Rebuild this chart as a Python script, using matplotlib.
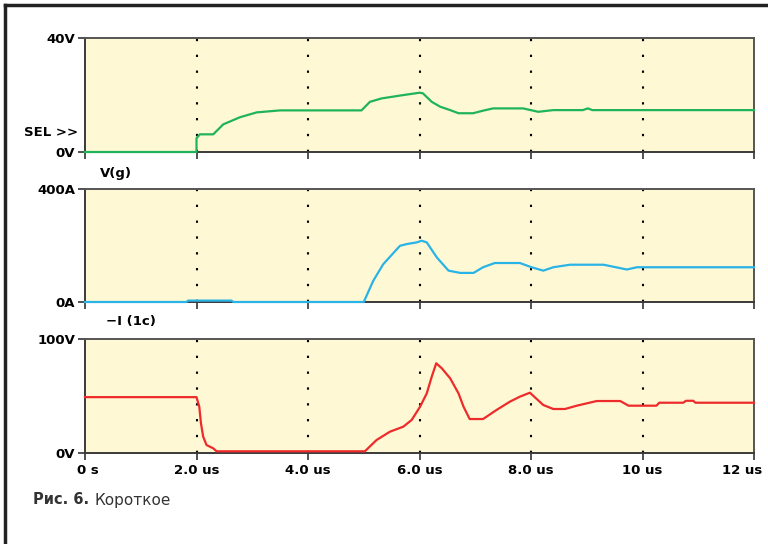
import matplotlib
matplotlib.use("Agg")
import matplotlib.pyplot as plt
from matplotlib.lines import Line2D
import matplotlib.transforms as mtransforms

# ---- data ----
t_vg = [0, 2.0, 2.0, 2.06, 2.3, 2.48, 2.78, 3.08, 3.5, 4.96, 5.11, 5.32, 5.65, 6.0, 6.06,
        6.22, 6.37, 6.55, 6.7, 6.96, 7.14, 7.32, 7.86, 8.13, 8.4, 8.93, 9.02, 9.1, 12]
v_vg = [0, 0, 4.8, 6.2, 6.2, 9.7, 12.2, 13.9, 14.6, 14.6, 17.6, 18.8, 19.8, 20.8, 20.6,
        17.6, 15.9, 14.7, 13.6, 13.6, 14.5, 15.3, 15.3, 14.1, 14.7, 14.7, 15.3, 14.7, 14.7]

t_i = [0, 1.82, 1.85, 2.63, 2.66, 5.0, 5.17, 5.35, 5.65, 5.77, 5.95, 6.04, 6.13, 6.31, 6.52,
       6.73, 6.97, 7.14, 7.35, 7.8, 8.01, 8.22, 8.4, 8.7, 9.3, 9.72, 9.9, 12]
v_i = [0, 0, 5, 5, 0, 0, 75, 134, 199, 205, 211, 217, 211, 158, 111,
       103, 103, 123, 138, 138, 123, 111, 123, 132, 132, 115, 123, 123]

t_v = [0, 2.0, 2.05, 2.08, 2.12, 2.18, 2.3, 2.36, 5.02, 5.23, 5.47, 5.71, 5.86, 6.01, 6.13,
       6.22, 6.3, 6.4, 6.55, 6.7, 6.79, 6.9, 7.14, 7.38, 7.62, 7.8, 7.98, 8.22, 8.4, 8.61,
       8.82, 9.18, 9.6, 9.75, 10.25, 10.3, 10.73, 10.78, 10.91, 10.95, 12]
v_v = [49, 49, 40.6, 26, 14.3, 7, 4.1, 1.5, 1.5, 11.4, 18.7, 23.1, 29, 40.6, 52.3,
       67, 78.7, 74.3, 65.5, 52.3, 40.6, 29.8, 29.8, 37.7, 45, 49.4, 52.9, 42.1, 38.6, 38.6,
       41.5, 45.6, 45.6, 41.5, 41.5, 44.1, 44.1, 45.8, 45.8, 44.1, 44.1]

x_ticks = [0, 2, 4, 6, 8, 10, 12]
x_tick_labels = ["0 s", "2.0 us", "4.0 us", "6.0 us", "8.0 us", "10 us", "12 us"]
grid_x = [2, 4, 6, 8, 10]

W, H = 768, 544
fig = plt.figure(figsize=(W / 100, H / 100), dpi=100)
fig.patch.set_facecolor("white")

def px_rect(x0, y0, x1, y1):
    return [x0 / W, 1 - y1 / H, (x1 - x0) / W, (y1 - y0) / H]

bg = "#FFF8D4"
panels = [
    dict(rect=px_rect(85, 38, 754, 152), t=t_vg, v=v_vg, ymax=40, color="#1FB45A",
         ylabels=("0V", "40V")),
    dict(rect=px_rect(85, 189, 754, 302), t=t_i, v=v_i, ymax=400, color="#2AB3E6",
         ylabels=("0A", "400A")),
    dict(rect=px_rect(85, 339, 754, 453), t=t_v, v=v_v, ymax=100, color="#EE2B2B",
         ylabels=("0V", "100V")),
]

fp = dict(family="DejaVu Sans", weight="bold", size=9.5)
axes = []
for i, p in enumerate(panels):
    ax = fig.add_axes(p["rect"])
    ax.set_facecolor(bg)
    ax.set_xlim(0, 12)
    ax.set_ylim(0, p["ymax"])
    for gx in grid_x:
        ax.axvline(gx, color="black", lw=1.5, linestyle=(0, (1.1, 6.5)), zorder=1)
    ax.plot(p["t"], p["v"], color=p["color"], lw=1.6, zorder=3, clip_on=False)
    for s in ax.spines.values():
        s.set_color("#3a3a3a")
        s.set_linewidth(1.4)
    ax.spines["top"].set_color("#555555")
    ax.spines["right"].set_color("#555555")
    ax.set_yticks([0, p["ymax"]])
    ax.set_yticklabels(p["ylabels"], fontdict=fp)
    ax.set_xticks(x_ticks)
    ax.tick_params(axis="both", direction="out", length=5, width=1.2, color="#333333",
                   pad=2)
    if i < 2:
        ax.set_xticklabels([])
    else:
        ax.set_xticklabels(x_tick_labels, fontdict=fp)
        ax.tick_params(axis="x", pad=3)
        labels = ax.get_xticklabels()
        labels[0].set_horizontalalignment("left")
        labels[0].set_transform(labels[0].get_transform() +
                                mtransforms.ScaledTranslation(-0.08, 0, fig.dpi_scale_trans))
        labels[-1].set_horizontalalignment("right")
        labels[-1].set_transform(labels[-1].get_transform() +
                                 mtransforms.ScaledTranslation(0.08, 0, fig.dpi_scale_trans))
    axes.append(ax)

def ftext(x, y, s, **kw):
    return fig.text(x / W, 1 - y / H, s, **kw)

ftext(78, 132, "SEL >>", ha="right", va="center", **fp)
ftext(100, 173, "V(g)", ha="left", va="center", **fp)
ftext(106, 321, "\u2212I (1c)", ha="left", va="center", **fp)

cap1 = ftext(33, 500, "Рис. 6.", ha="left", va="center", family="DejaVu Sans",
             weight="bold", size=10.5, color="#333333")
fig.canvas.draw()
ext = cap1.get_window_extent()
x_next = ext.x1 + 5
fig.text(x_next / W, 1 - 500 / H, "Короткое", ha="left", va="center",
         family="DejaVu Sans", size=11, color="#333333")

# outer frame lines (top and left)
fig.add_artist(Line2D([5 / W, 1.0], [1 - 5 / H, 1 - 5 / H], color="#222222", lw=2.5,
                      transform=fig.transFigure))
fig.add_artist(Line2D([5 / W, 5 / W], [1 - 5 / H, 0.0], color="#222222", lw=2.5,
                      transform=fig.transFigure))

fig.savefig("out.png", dpi=100)
